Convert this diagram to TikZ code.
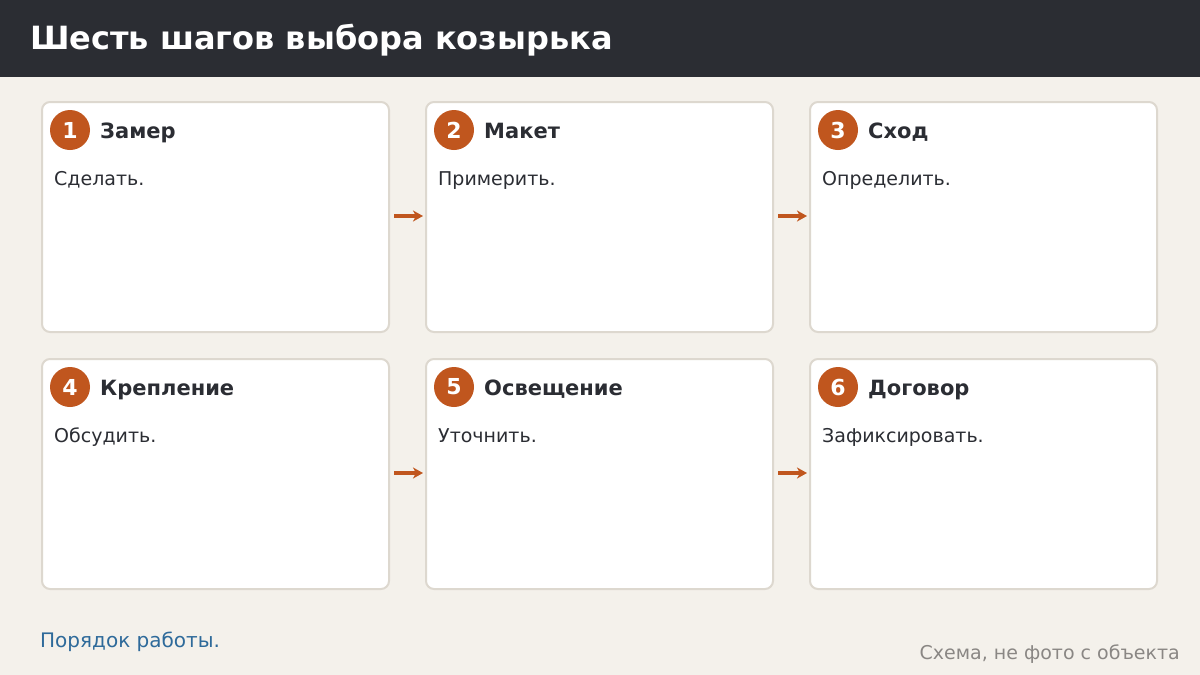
\documentclass[tikz,border=0pt]{standalone}
\usepackage{fontspec}
\setmainfont{DejaVu Sans}
\usetikzlibrary{arrows.meta}
\definecolor{bg}{HTML}{F4F1EB}
\definecolor{hdr}{HTML}{2B2D33}
\definecolor{brd}{HTML}{DDD8CF}
\definecolor{acc}{HTML}{C0561E}
\definecolor{ink}{HTML}{2B2D33}
\definecolor{lnk}{HTML}{2E6A9A}
\definecolor{muted}{HTML}{8A8784}
\tikzset{
  card/.style={draw=brd, line width=2pt, fill=white, rounded corners=8pt, minimum width=347pt, minimum height=230pt, inner sep=0pt, outer sep=0pt},
  badge/.style={circle, fill=acc, minimum size=40pt, inner sep=0pt, text=white, font=\fontsize{22}{26}\selectfont\bfseries},
  ttl/.style={anchor=base west, text=ink, font=\fontsize{21}{25}\selectfont\bfseries, inner sep=0pt},
  body/.style={anchor=base west, text=ink, font=\fontsize{19}{23}\selectfont, inner sep=0pt},
  flow/.style={draw=acc, line width=3.5pt, -{Stealth[length=10pt,width=11pt,inset=3pt]}},
}
\begin{document}
\begin{tikzpicture}[x=1pt,y=-1pt]
\useasboundingbox (0,0) rectangle (1200,675);
\fill[bg] (0,0) rectangle (1200,675);
\fill[hdr] (0,0) rectangle (1200,77);
\node[anchor=base west, text=white, font=\fontsize{32}{38}\selectfont\bfseries, inner sep=0pt] (title) at (30,49) {Шесть шагов выбора козырька};
% cards
\foreach \n/\x/\y/\t/\b in {1/42/102/Замер/Сделать., 2/426/102/Макет/Примерить., 3/810/102/Сход/Определить., 4/42/359/Крепление/Обсудить., 5/426/359/Освещение/Уточнить., 6/810/359/Договор/Зафиксировать.}{
  \node[card, anchor=north west] (c\n) at (\x,\y) {};
  \node[badge] (b\n) at ([xshift=28pt,yshift=-28pt]c\n.north west) {\n};
  \node[ttl] (t\n) at ([xshift=30pt,yshift=-8pt]b\n.center) {\t};
  \node[body] (d\n) at ([xshift=12pt,yshift=-83pt]c\n.north west) {\b};
}
\coordinate (a1s) at ([xshift=5pt,yshift=1pt]c1.east);
\coordinate (a1e) at ([xshift=-3pt,yshift=1pt]c2.west);
\draw[flow] (a1s) -- (a1e);
\coordinate (a2s) at ([xshift=5pt,yshift=1pt]c2.east);
\coordinate (a2e) at ([xshift=-3pt,yshift=1pt]c3.west);
\draw[flow] (a2s) -- (a2e);
\coordinate (a3s) at ([xshift=5pt,yshift=1pt]c4.east);
\coordinate (a3e) at ([xshift=-3pt,yshift=1pt]c5.west);
\draw[flow] (a3s) -- (a3e);
\coordinate (a4s) at ([xshift=5pt,yshift=1pt]c5.east);
\coordinate (a4e) at ([xshift=-3pt,yshift=1pt]c6.west);
\draw[flow] (a4s) -- (a4e);
\node[anchor=base west, text=lnk, font=\fontsize{20}{24}\selectfont, inner sep=0pt] (foot) at (40,647) {Порядок работы.};
\node[anchor=base east, text=muted, font=\fontsize{19}{23}\selectfont, inner sep=0pt] (note) at (1180,659) {Схема, не фото с объекта};
\end{tikzpicture}
\end{document}
